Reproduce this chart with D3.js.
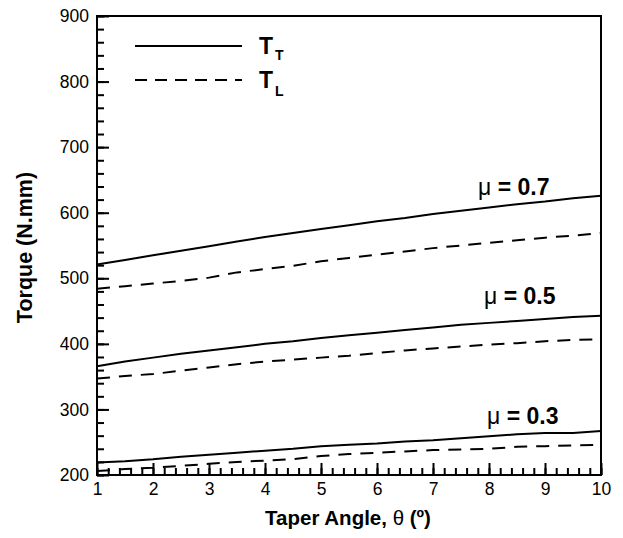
<!DOCTYPE html>
<meta charset="utf-8">
<script src="https://d3js.org/d3.v7.min.js"></script>
<style>
  body { margin: 0; background: #fff; }
  text { font-family: Arial, "Liberation Sans", sans-serif; fill: #000; }
  .tick text { font-size: 17.5px; }
  .curve { fill: none; stroke: #000; stroke-width: 2px; }
</style>
<body>
<div id="chart"></div>
<script>
// taper angle (deg)
var theta = [1, 1.5, 2, 2.5, 3, 3.5, 4, 4.5, 5, 5.5, 6, 6.5, 7, 7.5, 8, 8.5, 9, 9.5, 10];

// torque (N.mm), T_T = solid, T_L = dashed
var tt07 = [521, 528, 535, 542, 549, 556, 563, 569, 575, 581, 587, 592, 598, 603, 608, 613, 617, 622, 626];
var tl07 = [484, 488, 492, 496, 501, 509, 514, 519, 526, 531, 536, 541, 546, 550, 554, 558, 562, 565, 569];
var tt05 = [366, 373, 379, 385, 390, 395, 400, 404, 409, 413, 417, 421, 425, 429, 432, 435, 438, 441, 443];
var tl05 = [347, 351, 354, 359, 364, 369, 373, 376, 379, 382, 386, 390, 393, 396, 399, 401, 404, 406, 407];
var tt03 = [219, 221, 224, 228, 231, 234, 237, 240, 244, 246, 248, 251, 253, 256, 259, 262, 264, 264, 267];
var tl03 = [206, 209, 211, 214, 217, 220, 222, 224, 229, 232, 234, 236, 238, 239, 240, 243, 244, 245, 246];

var xTicks = [1, 2, 3, 4, 5, 6, 7, 8, 9, 10];
var yTicks = [200, 300, 400, 500, 600, 700, 800, 900];

var muLabels = ["0.7", "0.5", "0.3"];
var muPos = [[478, 195], [484, 304], [487, 424]];

var legendNames = ["T", "T"];
var legendSubs = ["T", "L"];

var W = 623, H = 538;
var plotL = 97, plotR = 601, plotT = 16, plotB = 475;

var svg = d3.select("#chart").append("svg")
  .attr("width", W).attr("height", H);

var x = d3.scaleLinear().domain([1, 10]).range([plotL, plotR]);
var y = d3.scaleLinear().domain([200, 900]).range([plotB, plotT]);

// minor ticks
svg.append("g")
  .attr("transform", "translate(0," + plotB + ")")
  .call(d3.axisBottom(x).tickValues(d3.range(1, 10.01, 0.2)).tickSize(-7).tickFormat(""))
  .call(function(g) { g.select(".domain").remove(); })
  .selectAll("line").attr("stroke-width", 2);
svg.append("g")
  .attr("transform", "translate(" + plotL + ",0)")
  .call(d3.axisLeft(y).tickValues(d3.range(200, 901, 20)).tickSize(-7).tickFormat(""))
  .call(function(g) { g.select(".domain").remove(); })
  .selectAll("line").attr("stroke-width", 2);

// major ticks
var xAxis = svg.append("g")
  .attr("transform", "translate(0," + plotB + ")")
  .call(d3.axisBottom(x).tickValues(xTicks).tickSize(-12).tickPadding(8).tickFormat(d3.format("d")));
xAxis.select(".domain").remove();
xAxis.selectAll("line").attr("stroke-width", 2);

var yAxis = svg.append("g")
  .attr("transform", "translate(" + plotL + ",0)")
  .call(d3.axisLeft(y).tickValues(yTicks).tickSize(-12).tickPadding(8));
yAxis.select(".domain").remove();
yAxis.selectAll("line").attr("stroke-width", 2);
svg.selectAll(".tick text").attr("font-family", null).attr("font-size", null);

// frame
svg.append("rect")
  .attr("x", plotL).attr("y", plotT)
  .attr("width", plotR - plotL).attr("height", plotB - plotT)
  .attr("fill", "none").attr("stroke", "#000").attr("stroke-width", 2);

var line = d3.line()
  .x(function(d, i) { return x(theta[i]); })
  .y(function(d) { return y(d); });

[tt07, tt05, tt03].forEach(function(s) {
  svg.append("path").attr("class", "curve").attr("d", line(s));
});
[tl07, tl05, tl03].forEach(function(s) {
  svg.append("path").attr("class", "curve").attr("stroke-dasharray", "13,9").attr("d", line(s));
});

// mu labels
muLabels.forEach(function(m, i) {
  var t = svg.append("text")
    .attr("x", muPos[i][0]).attr("y", muPos[i][1])
    .attr("font-size", 23);
  t.append("tspan").text("\u03bc ");
  t.append("tspan").attr("font-weight", "bold").text("= " + m);
});

// legend
var legY = [46, 80];
legY.forEach(function(ly, i) {
  svg.append("line")
    .attr("x1", 135).attr("x2", 242).attr("y1", ly).attr("y2", ly)
    .attr("stroke", "#000").attr("stroke-width", 2)
    .attr("stroke-dasharray", i == 1 ? "12,8" : null);
  var t = svg.append("text")
    .attr("x", 259).attr("y", ly + 7.5)
    .attr("font-weight", "bold").attr("font-size", 23);
  t.append("tspan").text(legendNames[i]);
  t.append("tspan").attr("font-size", 14).attr("dy", i == 1 ? 8 : 6).attr("dx", 2).text(legendSubs[i]);
});

// axis titles
var xt = svg.append("text")
  .attr("x", 348).attr("y", 525)
  .attr("text-anchor", "middle")
  .attr("font-weight", "bold").attr("font-size", 20.5);
xt.append("tspan").text("Taper Angle, ");
xt.append("tspan").attr("font-weight", "normal").text("\u03b8");
xt.append("tspan").text(" (\u00ba)");

svg.append("text")
  .attr("transform", "translate(32," + 247.5 + ") rotate(-90)")
  .attr("text-anchor", "middle")
  .attr("font-weight", "bold").attr("font-size", 21.5)
  .text("Torque (N.mm)");
</script>
</body>
